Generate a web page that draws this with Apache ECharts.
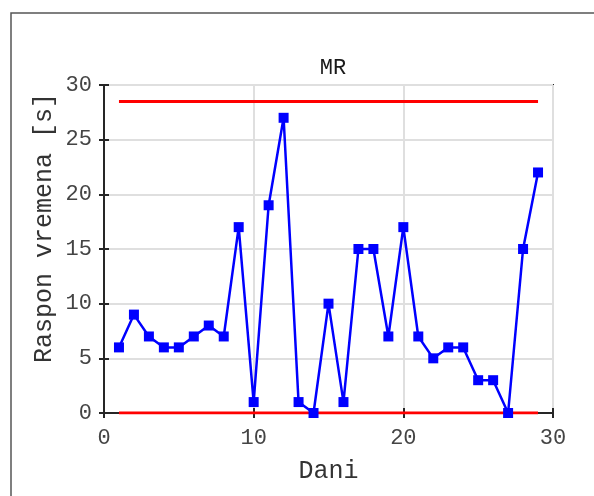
<!DOCTYPE html>
<html>
<head>
<meta charset="utf-8">
<script src="https://cdn.jsdelivr.net/npm/echarts@6/dist/echarts.min.js"></script>
<style>
html, body { margin:0; padding:0; background:#fff; }
#main { width:594px; height:496px; }
</style>
</head>
<body>
<div id="main"></div>
<script>
// dani i raspon (moving range)
var days = [1,2,3,4,5,6,7,8,9,10,11,12,13,14,15,16,17,18,19,20,21,22,23,24,25,26,27,28,29];
var mrValues = [6,9,7,6,6,7,8,7,17,1,19,27,1,0,10,1,15,15,7,17,7,5,6,6,3,3,0,15,22];
var uclValue = 28.5;
var lclValue = 0;

var FONT = "'Liberation Mono', 'DejaVu Sans Mono', monospace";
var AXIS_COLOR = '#262626';

function pairs(xs, ys){
	var out = [];
	for(var i = 0; i < xs.length; i++){
		out.push([xs[i], ys[i]]);
	}
	return out;
}

var chart = echarts.init(document.getElementById('main'), null, {renderer:'canvas'});

var option = {
	animation: false,
	backgroundColor: '#fff',
	title: {
		text: 'MR',
		left: 328,
		top: 52,
		textAlign: 'center',
		textStyle: { fontFamily: FONT, fontSize: 22, fontWeight: 'normal', color: '#1a1a1a' }
	},
	graphic: [{
		type: 'rect',
		shape: { x: 11, y: 13, width: 700, height: 600 },
		style: { fill: 'none', stroke: '#555', lineWidth: 1.5 },
		silent: true
	}],
	grid: {
		left: 104, top: 85, width: 449, height: 328,
		show: true, borderColor: AXIS_COLOR, borderWidth: 2, backgroundColor: 'transparent'
	},
	xAxis: [{
		type: 'value', min: 0, max: 30, interval: 10,
		name: 'Dani', nameLocation: 'middle', nameGap: 46, nameMoveOverlap: false,
		nameTextStyle: { fontFamily: FONT, fontSize: 25, color: '#333' },
		axisLine: { show: true, onZero: false, lineStyle: { color: AXIS_COLOR, width: 2 } },
		axisTick: { show: true, inside: true, length: 5, lineStyle: { color: AXIS_COLOR, width: 2 } },
		axisLabel: { fontFamily: FONT, fontSize: 22, color: '#444', margin: 14 },
		splitLine: { show: true, lineStyle: { color: '#dfdfdf', width: 2 } }
	}, {
		type: 'value', min: 0, max: 30, interval: 10, position: 'top',
		axisLine: { show: false },
		axisTick: { show: true, inside: true, length: 5, lineStyle: { color: AXIS_COLOR, width: 2 } },
		axisLabel: { show: false },
		splitLine: { show: false }
	}],
	yAxis: [{
		type: 'value', min: 0, max: 30, interval: 5,
		name: 'Raspon vremena [s]', nameLocation: 'middle', nameGap: 47, nameMoveOverlap: false,
		nameTextStyle: { fontFamily: FONT, fontSize: 25, color: '#333', padding: [0, 0, 0, 42] },
		axisLine: { show: true, onZero: false, lineStyle: { color: AXIS_COLOR, width: 2 } },
		axisTick: { show: true, inside: true, length: 5, lineStyle: { color: AXIS_COLOR, width: 2 } },
		axisLabel: { fontFamily: FONT, fontSize: 22, color: '#444', margin: 12 },
		splitLine: { show: true, lineStyle: { color: '#dfdfdf', width: 2 } }
	}, {
		type: 'value', min: 0, max: 30, interval: 5, position: 'right',
		axisLine: { show: false },
		axisTick: { show: true, inside: true, length: 5, lineStyle: { color: AXIS_COLOR, width: 2 } },
		axisLabel: { show: false },
		splitLine: { show: false }
	}],
	series: [{
		name: 'UCL', type: 'line',
		data: [[days[0], uclValue], [days[days.length-1], uclValue]],
		symbol: 'none', lineStyle: { color: '#ff0000', width: 3 }, z: 2
	}, {
		name: 'LCL', type: 'line',
		data: [[days[0], lclValue], [days[days.length-1], lclValue]],
		symbol: 'none', lineStyle: { color: '#ff0000', width: 3 }, z: 2
	}, {
		name: 'MR', type: 'line',
		data: pairs(days, mrValues),
		symbol: 'rect', symbolSize: 10,
		itemStyle: { color: '#0000ff' },
		lineStyle: { color: '#0000ff', width: 2.5 },
		z: 3
	}]
};

chart.setOption(option);
</script>
</body>
</html>
